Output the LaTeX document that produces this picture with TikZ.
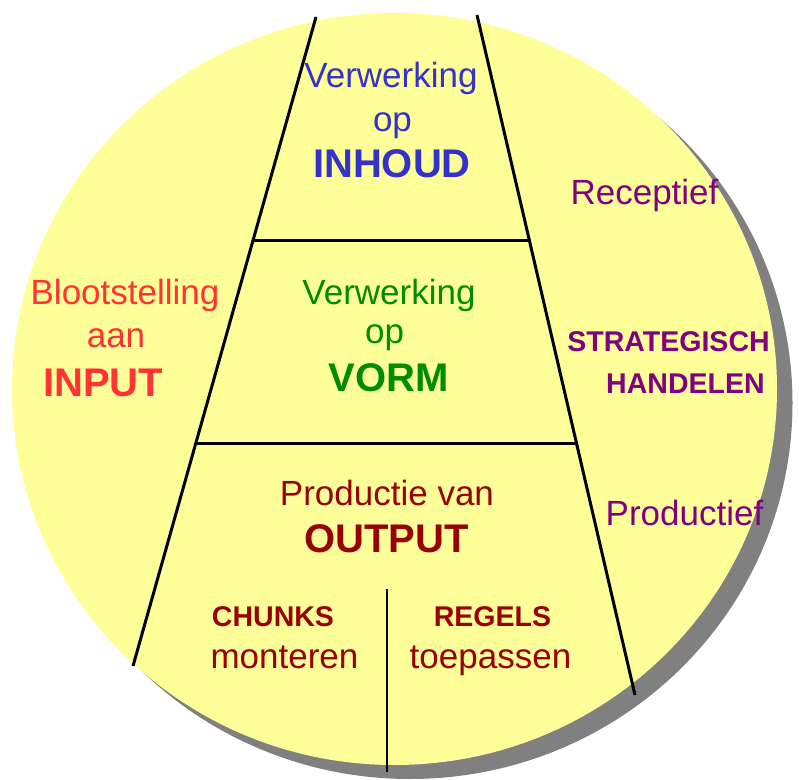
\documentclass[tikz,border=0pt]{standalone}
\usepackage{fontspec}
\setmainfont{Liberation Sans}
\usepackage{xcolor}
\usetikzlibrary{arrows}

\definecolor{discyellow}{RGB}{255,255,153}
\definecolor{discshadow}{RGB}{128,128,128}
\definecolor{inhoudblue}{RGB}{51,51,204}
\definecolor{vormgreen}{RGB}{0,140,0}
\definecolor{inputred}{RGB}{255,51,51}
\definecolor{outputred}{RGB}{153,0,0}
\definecolor{sidepurple}{RGB}{128,0,128}

\begin{document}
\begin{tikzpicture}[x=0.75pt,y=0.75pt,yscale=-1,
	txt/.style={anchor=base, font=\fontsize{26.25}{30}\selectfont},
	bigtxt/.style={anchor=base, font=\fontsize{30}{34}\selectfont\bfseries},
	smalltxt/.style={anchor=base, font=\fontsize{21.4}{25}\selectfont\bfseries}]
	%uncomment if require: \path (0,780); %set diagram left start at 0, and has height of 780
	\useasboundingbox (0,0) rectangle (799,780);
	
	\fill [discshadow] (410,403) ellipse [x radius= 382.5, y radius= 376];
	\fill [discyellow] (394.5,389) ellipse [x radius= 382.5, y radius= 376];
	
	\draw [line width=2.25pt]   (316,17) -- (133,666) ;
	\draw [line width=2.25pt]   (477,15) -- (635,695) ;
	\draw [line width=2.25pt]   (254,241) -- (529,241) ;
	\draw [line width=2.25pt]   (197,443) -- (576,443) ;
	\draw [line width=1.1pt]    (387,589) -- (387,772) ;
	
	% top
	\node [txt, text=inhoudblue] (inhoudA) at (391,88) {Verwerking};
	\node [txt, text=inhoudblue] (inhoudB) at (392.5,132) {op};
	\node [bigtxt, text=inhoudblue] (inhoudC) at (392,178) {INHOUD};
	
	% middle
	\node [txt, text=vormgreen] (vormA) at (389,305) {Verwerking};
	\node [txt, text=vormgreen] (vormB) at (384.5,344) {op};
	\node [bigtxt, text=vormgreen] (vormC) at (388.5,392) {VORM};
	
	% bottom
	\node [txt, text=outputred] (outputA) at (387,505) {Productie van};
	\node [bigtxt, text=outputred] (outputB) at (386.5,552) {OUTPUT};
	\node [smalltxt, text=outputred] (chunksA) at (273,626) {CHUNKS};
	\node [txt, text=outputred] (chunksB) at (284.5,668) {monteren};
	\node [smalltxt, text=outputred] (regelsA) at (492.5,626) {REGELS};
	\node [txt, text=outputred] (regelsB) at (490.5,668) {toepassen};
	
	% left
	\node [txt, text=inputred] (inputA) at (125,305) {Blootstelling};
	\node [txt, text=inputred] (inputB) at (116,348) {aan};
	\node [bigtxt, text=inputred] (inputC) at (103,396) {INPUT};
	
	% right
	\node [txt, text=sidepurple] (receptief) at (644.5,205) {Receptief};
	\node [smalltxt, text=sidepurple] (stratA) at (668.5,351) {STRATEGISCH};
	\node [smalltxt, text=sidepurple] (stratB) at (685.5,393) {HANDELEN};
	\node [txt, text=sidepurple] (productief) at (684.5,525) {Productief};
	
\end{tikzpicture}
\end{document}
